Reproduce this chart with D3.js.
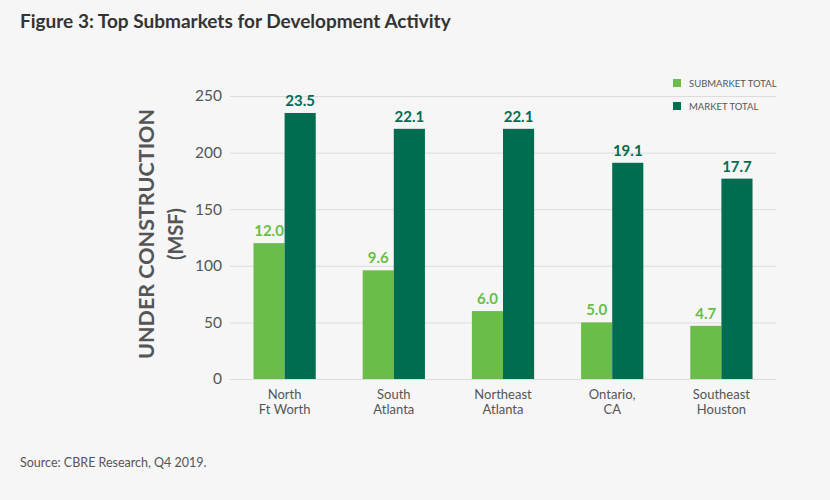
<!DOCTYPE html>
<html><head><meta charset="utf-8">
<script src="https://cdn.jsdelivr.net/npm/d3@7"></script>
<style>
html,body{margin:0;padding:0;background:#f6f6f6;}
svg{display:block;font-family:Lato,"Noto Sans",sans-serif;}
</style></head>
<body><svg id="c" width="830" height="500"></svg>
<script>
const categories = [["North","Ft Worth"],["South","Atlanta"],["Northeast","Atlanta"],["Ontario,","CA"],["Southeast","Houston"]];
const seriesNames = ["SUBMARKET TOTAL","MARKET TOTAL"];
const submarketTotal = [12.0, 9.6, 6.0, 5.0, 4.7];
const marketTotal = [23.5, 22.1, 22.1, 19.1, 17.7];
const yTicks = [0, 50, 100, 150, 200, 250];
const colors = ["#69bd48", "#006c50"];

(function(){
const svg = d3.select("#c");
svg.append("rect").attr("width",830).attr("height",500).attr("fill","#f6f6f6");

const pLeft = 230, pRight = 776, pTop = 96, pBottom = 379;
const y = d3.scaleLinear().domain([0, 250]).range([pBottom, pTop]);
const x0 = d3.scaleBand().domain(d3.range(categories.length)).range([pLeft, pRight]).paddingInner(0.43).paddingOuter(0.215);
const x1 = d3.scaleBand().domain([0,1]).range([0, x0.bandwidth()]);

// title
svg.append("text").attr("x",20).attr("y",28).attr("font-size",19).attr("font-weight",700)
  .attr("fill","#333").text("Figure 3: Top Submarkets for Development Activity");

// gridlines & axis labels
const yAxis = d3.axisLeft(y).tickValues(yTicks).tickSize(-(pRight-pLeft)).tickPadding(8);
const ga = svg.append("g").attr("transform",`translate(${pLeft},0)`).call(yAxis);
ga.select(".domain").remove();
ga.selectAll(".tick line").attr("stroke","#dcdcdc").attr("stroke-width",1);
ga.selectAll(".tick text").attr("font-size",15.5).attr("fill","#555").attr("font-family","Lato,'Noto Sans',sans-serif");

// y title
const yt = svg.append("text").attr("transform","translate(154,234) rotate(-90)").attr("text-anchor","middle")
  .attr("fill","#555").attr("font-weight",700);
yt.append("tspan").attr("x",0).attr("dy",0).attr("font-size",21.5).text("UNDER CONSTRUCTION");
yt.append("tspan").attr("x",0).attr("dy",29).attr("font-size",20).text("(MSF)");

const series = [submarketTotal, marketTotal];
series.forEach((vals, si) => {
  const g = svg.append("g");
  g.selectAll("rect").data(vals).join("rect")
    .attr("x",(d,i)=>x0(i)+x1(si)).attr("width",x1.bandwidth())
    .attr("y",d=>y(d*10)).attr("height",d=>pBottom-y(d*10)).attr("fill",colors[si]);
  g.selectAll("text").data(vals).join("text")
    .attr("x",(d,i)=>x0(i)+x1(si)+x1.bandwidth()/2).attr("y",d=>y(d*10)-7)
    .attr("text-anchor","middle").attr("font-size",15).attr("font-weight",700).attr("fill",colors[si])
    .text(d=>d.toFixed(1));
});

// category labels
categories.forEach((lines, i) => {
  const t = svg.append("text").attr("text-anchor","middle").attr("fill","#555").attr("font-size",13)
    .attr("transform",`translate(${x0(i)+x0.bandwidth()/2},399)`);
  lines.forEach((l, j) => t.append("tspan").attr("x",0).attr("dy", j===0?0:15).text(l));
});

// legend
seriesNames.forEach((n, i) => {
  svg.append("rect").attr("x",673).attr("y",79+i*23).attr("width",8).attr("height",8).attr("fill",colors[i]);
  svg.append("text").attr("x",689).attr("y",87+i*23).attr("font-size",9.5).attr("fill","#555").text(n);
});

// source
svg.append("text").attr("x",20).attr("y",467).attr("font-size",12.5).attr("fill","#555").text("Source: CBRE Research, Q4 2019.");
})();
</script></body></html>
